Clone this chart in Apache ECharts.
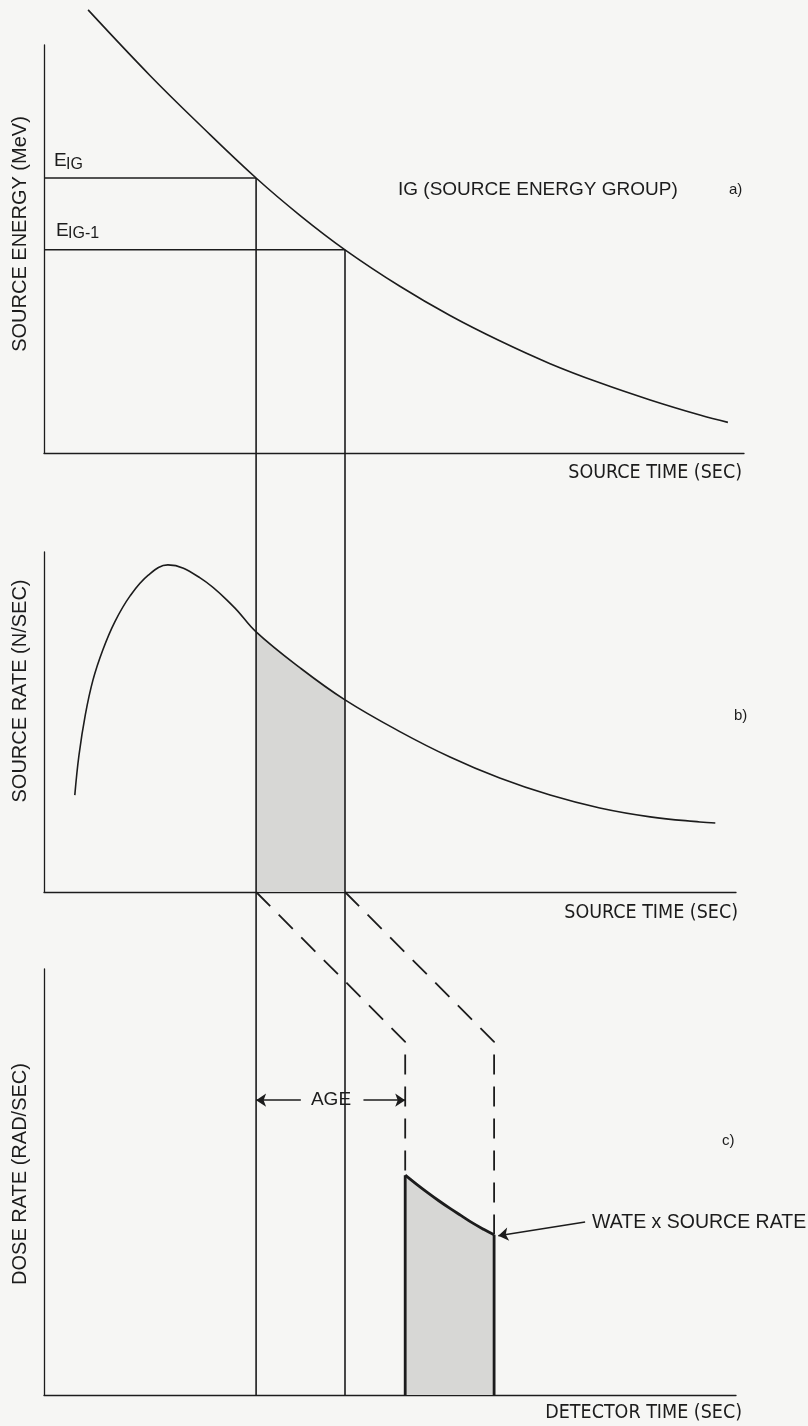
<!DOCTYPE html>
<html><head><meta charset="utf-8">
<script src="https://cdn.jsdelivr.net/npm/echarts@6/dist/echarts.min.js"></script>
<style>html,body{margin:0;padding:0;background:#f6f6f4;}#c{width:808px;height:1426px;}</style>
</head><body><div id="c"></div>
<script>
// ---- Panel a) source energy vs source time ----
const energyTime = [6.3, 15.1, 22.3, 30.3, 36.6, 43.0, 50.9, 58.0, 65.1, 72.3, 79.4, 86.6, 93.7, 97.7];
const energyVal  = [108.6, 92.6, 80.4, 67.4, 58.2, 49.8, 40.8, 33.7, 27.5, 21.9, 17.2, 13.0, 9.3, 7.5];
// ---- Panel b) source rate vs source time ----
const rateTime = [4.4, 5.0, 5.9, 7.0, 8.4, 10.1, 12.3, 14.9, 17.7, 22.3, 27.0, 30.3, 36.6, 43.0, 50.9, 58.0, 65.1, 72.3, 79.4, 86.6, 93.7, 95.9];
const rateVal  = [28.5, 40.3, 52.1, 62.4, 71.2, 79.4, 87.1, 93.2, 96.2, 92.4, 84.1, 76.5, 65.9, 56.5, 47.1, 39.7, 33.5, 28.5, 24.7, 22.1, 20.6, 20.3];
// ---- energy group boundaries ----
const tIG = 30.3, tIG1 = 43.0;
const eIG = 67.4, eIG1 = 49.8;
const age = 21.3;
// ---- Panel c) dose rate vs detector time ----
const doseTime = [51.6, 53.2, 54.8, 56.4, 58.0, 59.6, 61.2, 62.8, 64.3];
const doseVal  = [51.6, 49.5, 47.5, 45.6, 43.8, 42.1, 40.4, 38.9, 37.6];
const bendDose = 82.9;      // dashed transfer lines turn vertical here
const ageMarkDose = 69.2;   // level of the AGE arrows
const wateFrom = [77.3, 40.6], wateTo = [64.9, 37.4];

const INK = '#1c1c1c';
const SHADE = '#d7d7d5';
const NARROW = "'Liberation Sans Narrow','DejaVu Sans Condensed','Roboto Condensed',sans-serif";
const SANS = "'Liberation Sans','Helvetica','Arial',sans-serif";

const zip = (a, b) => a.map((v, i) => [v, b[i]]);
const chart = echarts.init(document.getElementById('c'), null, {renderer: 'canvas'});

function xAx(gi, max) {
  return {type: 'value', gridIndex: gi, min: 0, max: max,
    axisLine: {show: true, onZero: false, lineStyle: {color: INK, width: 1.3}},
    axisTick: {show: false}, axisLabel: {show: false}, splitLine: {show: false}};
}
function yAx(gi) {
  return {type: 'value', gridIndex: gi, min: 0, max: 100,
    axisLine: {show: true, onZero: false, lineStyle: {color: INK, width: 1.3}},
    axisTick: {show: false}, axisLabel: {show: false}, splitLine: {show: false}};
}
const W = 700;
const base = {
  backgroundColor: '#f6f6f4',
  animation: false,
  grid: [
    {left: 44, top: 45, width: W, height: 408},
    {left: 44, top: 552, width: 692, height: 340},
    {left: 44, top: 969, width: 692, height: 426}
  ],
  xAxis: [xAx(0, 100), xAx(1, 100 * 692 / W), xAx(2, 100 * 692 / W)],
  yAxis: [yAx(0), yAx(1), yAx(2)],
  series: []
};
const line = (gi, data, extra) => Object.assign({
  type: 'line', xAxisIndex: gi, yAxisIndex: gi, data: data, showSymbol: false, symbol: 'none',
  clip: false, silent: true, lineStyle: {color: INK, width: 1.6}, z: 5
}, extra || {});
const smooth = {smooth: 0.4};

const rateSlice = zip(rateTime, rateVal).filter(p => p[0] >= tIG && p[0] <= tIG1);

base.series.push(
  line(0, zip(energyTime, energyVal), smooth),
  line(0, [[0, eIG], [tIG, eIG]]),
  line(0, [[0, eIG1], [tIG1, eIG1]]),
  line(1, rateSlice, Object.assign({lineStyle: {width: 0, opacity: 0}, areaStyle: {color: SHADE, opacity: 1}, z: 2}, smooth)),
  line(1, zip(rateTime, rateVal), smooth),
  line(2, zip(doseTime, doseVal), Object.assign({lineStyle: {color: INK, width: 2.8, join: 'round'}, areaStyle: {color: SHADE, opacity: 1}, z: 4}, smooth)),
  line(2, [[doseTime[0], 0], [doseTime[0], doseVal[0]]], {lineStyle: {color: INK, width: 2.8}}),
  line(2, [[doseTime[doseTime.length - 1], 0], [doseTime[doseTime.length - 1], doseVal[doseVal.length - 1]]], {lineStyle: {color: INK, width: 2.8}}),
  {
    type: 'lines', coordinateSystem: 'cartesian2d', xAxisIndex: 2, yAxisIndex: 2, silent: true,
    symbol: ['none', 'arrow'], symbolSize: 10, z: 6,
    lineStyle: {color: INK, width: 1.5, opacity: 1},
    data: [
      {coords: [[tIG + age * 0.30, ageMarkDose], [tIG, ageMarkDose]]},
      {coords: [[tIG + age * 0.72, ageMarkDose], [tIG + age, ageMarkDose]]},
      {coords: [wateFrom, wateTo]}
    ]
  }
);

function txt(x, y, text, opt) {
  return {type: 'text', x: x, y: y, silent: true, z: 10, style: Object.assign({
    text: text, fill: INK, fontFamily: SANS, fontSize: 19,
    textAlign: 'left', textVerticalAlign: 'middle', align: 'left', verticalAlign: 'middle'
  }, opt || {})};
}
function vtxt(x, y, text) {
  const t = txt(x, y, text, {textAlign: 'center', align: 'center', fontSize: 20});
  t.rotation = Math.PI / 2;
  return t;
}
const rightTxt = {textAlign: 'right', align: 'right', fontFamily: NARROW, fontSize: 19.5};
base.graphic = [
  vtxt(20, 234, 'SOURCE ENERGY (MeV)'),
  vtxt(20, 691, 'SOURCE RATE (N/SEC)'),
  vtxt(20, 1174, 'DOSE RATE (RAD/SEC)'),
  txt(54, 161, 'E', {fontSize: 19}),
  txt(66, 165, 'IG', {fontSize: 16}),
  txt(56, 231, 'E', {fontSize: 19}),
  txt(68, 234, 'IG-1', {fontSize: 16}),
  txt(398, 190, 'IG (SOURCE ENERGY GROUP)'),
  txt(729, 190, 'a)', {fontSize: 15}),
  txt(734, 716, 'b)', {fontSize: 15}),
  txt(722, 1141, 'c)', {fontSize: 15}),
  txt(742, 473, 'SOURCE TIME (SEC)', rightTxt),
  txt(738, 913, 'SOURCE TIME (SEC)', rightTxt),
  txt(742, 1413, 'DETECTOR TIME (SEC)', rightTxt),
  txt(592, 1223, 'WATE x SOURCE RATE', {fontSize: 19.5}),
  txt(331, 1100, 'AGE', {textAlign: 'center', align: 'center', fontSize: 19})
];
chart.setOption(base);

// connectors that cross panels: convert between the grids' axes
function toG(from, to, pt) {
  return chart.convertFromPixel({gridIndex: to}, chart.convertToPixel({gridIndex: from}, pt));
}
function vertical(t, e) {
  return [
    line(0, [[t, e], [t, 0]]),
    line(1, [[t, toG(0, 1, [t, 0])[1]], [t, 0]]),
    line(2, [[t, toG(1, 2, [t, 0])[1]], [t, 0]])
  ];
}
const dash = {lineStyle: {color: INK, width: 1.8, type: [20, 12]}};
chart.setOption({series: base.series.concat(
  vertical(tIG, eIG),
  vertical(tIG1, eIG1),
  [
    line(2, [[tIG, toG(1, 2, [tIG, 0])[1]], [tIG + age, bendDose], [tIG + age, doseVal[0]]], dash),
    line(2, [[tIG1, toG(1, 2, [tIG1, 0])[1]], [tIG1 + age, bendDose], [tIG1 + age, doseVal[doseVal.length - 1]]], dash)
  ]
)});
</script></body></html>
